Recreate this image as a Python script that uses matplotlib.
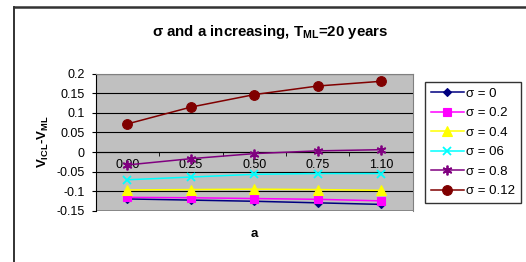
import matplotlib
matplotlib.use("Agg")
import matplotlib.pyplot as plt
from matplotlib.lines import Line2D

plt.rcParams["font.family"] = ["Liberation Sans", "DejaVu Sans"]
plt.rcParams["mathtext.fontset"] = "custom"
plt.rcParams["mathtext.rm"] = "Liberation Sans"
plt.rcParams["mathtext.bf"] = "Liberation Sans:bold"

# data
categories = ["0.00", "0.25", "0.50", "0.75", "1.10"]
s_0 = [-0.120, -0.123, -0.126, -0.130, -0.134]
s_02 = [-0.116, -0.117, -0.119, -0.121, -0.125]
s_04 = [-0.097, -0.096, -0.095, -0.096, -0.098]
s_06 = [-0.071, -0.064, -0.057, -0.055, -0.055]
s_08 = [-0.033, -0.017, -0.004, 0.003, 0.006]
s_012 = [0.072, 0.115, 0.147, 0.169, 0.181]
y_ticks = [0.2, 0.15, 0.1, 0.05, 0, -0.05, -0.1, -0.15]
y_labels = ["0.2", "0.15", "0.1", "0.05", "0", "-0.05", "-0.1", "-0.15"]

series = [
    (s_0, "σ = 0", "#000080", "D", 4.5),
    (s_02, "σ = 0.2", "#FF00FF", "s", 6),
    (s_04, "σ = 0.4", "#FFFF00", "^", 6.5),
    (s_06, "σ = 06", "#00FFFF", "x", 6),
    (s_08, "σ = 0.8", "#800080", (6, 2, 0), 7),
    (s_012, "σ = 0.12", "#800000", "o", 7),
]

fig = plt.figure(figsize=(5.26, 2.62), dpi=100)
ax = fig.add_axes([0.182, 0.196, 0.603, 0.522])
ax.set_facecolor("#C0C0C0")

x = list(range(len(categories)))
for vals, lab, col, mk, ms in series:
    ax.plot(x, vals, color=col, marker=mk, markersize=ms, linewidth=1.1,
            markeredgewidth=1.3 if mk in ("x", (6, 2, 0)) else 0.8,
            markeredgecolor=col, label=lab, zorder=3)

ax.set_xlim(-0.5, 4.5)
ax.set_ylim(-0.15, 0.2)
ax.set_yticks(y_ticks)
ax.set_yticklabels(y_labels, fontsize=9)
ax.yaxis.grid(True, color="black", linewidth=0.8)
ax.set_axisbelow(True)

# x axis crosses at zero
ax.spines["bottom"].set_position(("data", 0))
ax.spines["bottom"].set_color("black")
ax.spines["left"].set_color("black")
ax.spines["top"].set_color("#808080")
ax.spines["right"].set_color("#808080")
ax.set_xticks(x)
ax.set_xticklabels(categories, fontsize=9)
ax.tick_params(axis="x", length=0, pad=5)
ax.set_xticks([i - 0.5 for i in range(len(categories) + 1)], minor=True)
ax.tick_params(axis="x", which="minor", length=3, direction="out", color="black")
ax.tick_params(axis="y", length=3, direction="out", pad=5)
ax.axhline(-0.15, color="#808080", linewidth=1.2, zorder=1)

fig.text(0.513, 0.879, r"σ and a increasing, T$_{\mathbf{ML}}$=20 years",
         ha="center", va="center", fontsize=10.8, fontweight="bold")
fig.text(0.083, 0.458, r"V$_{\mathbf{ICL}}$-V$_{\mathbf{ML}}$", rotation=90,
         ha="center", va="center", fontsize=9.5, fontweight="bold")
fig.text(0.483, 0.105, "a", ha="center", va="center", fontsize=9.5, fontweight="bold")

leg = ax.legend(loc="upper left", bbox_to_anchor=(0.808, 0.688),
                bbox_transform=fig.transFigure, fontsize=9.5, frameon=True,
                fancybox=False, edgecolor="black", handlelength=2.5,
                handletextpad=0.15, labelspacing=0.55, borderpad=0.45,
                borderaxespad=0)
leg.get_frame().set_linewidth(1.0)

# outer chart border (left and top)
fig.add_artist(Line2D([0.0266, 0.0266], [0.0, 0.973], transform=fig.transFigure,
                      color="#222222", linewidth=1.3))
fig.add_artist(Line2D([0.0266, 1.0], [0.973, 0.973], transform=fig.transFigure,
                      color="#333333", linewidth=1.8))

fig.savefig("out.png", dpi=100)
